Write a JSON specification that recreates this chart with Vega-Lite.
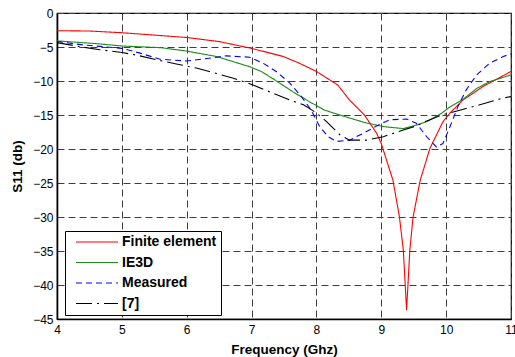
{
  "$schema": "https://vega.github.io/schema/vega-lite/v6.json",
  "width": 454,
  "height": 306,
  "autosize": {"type": "none"},
  "padding": {"left": 57, "top": 13, "right": 4, "bottom": 38},
  "background": "white",
  "config": {
    "font": "Liberation Sans",
    "view": {"stroke": "black", "strokeWidth": 1.2},
    "axis": {
      "labelFont": "Liberation Sans",
      "labelFontSize": 12,
      "labelColor": "black",
      "labelFlush": false,
      "labelOverlap": false,
      "titleFont": "Liberation Sans",
      "titleFontSize": 13.5,
      "titleFontWeight": "bold",
      "titleColor": "black",
      "grid": true,
      "gridColor": "#3c3c3c",
      "gridDash": [7, 4],
      "gridWidth": 1,
      "gridOpacity": 1,
      "domain": true,
      "domainColor": "black",
      "domainWidth": 1.6,
      "ticks": false,
      "labelPadding": 4
    },
    "legend": {
      "orient": "none",
      "legendX": 8,
      "legendY": 218,
      "strokeColor": "black",
      "fillColor": "white",
      "padding": 4,
      "symbolOffset": 6,
      "symbolType": "stroke",
      "symbolSize": 1764,
      "symbolStrokeWidth": 1.2,
      "clipHeight": 14,
      "labelFont": "Liberation Sans",
      "labelFontSize": 14,
      "labelFontWeight": "bold",
      "labelColor": "black",
      "labelOffset": 3,
      "rowPadding": 6.5
    }
  },
  "data": {
    "values": [
      {"f": 4.0, "s": -2.6, "series": "Finite element"},
      {"f": 4.5, "s": -2.65, "series": "Finite element"},
      {"f": 5.0, "s": -2.9, "series": "Finite element"},
      {"f": 5.5, "s": -3.25, "series": "Finite element"},
      {"f": 6.0, "s": -3.6, "series": "Finite element"},
      {"f": 6.5, "s": -4.2, "series": "Finite element"},
      {"f": 7.0, "s": -5.2, "series": "Finite element"},
      {"f": 7.49, "s": -6.4, "series": "Finite element"},
      {"f": 7.74, "s": -7.4, "series": "Finite element"},
      {"f": 8.0, "s": -8.6, "series": "Finite element"},
      {"f": 8.33, "s": -10.6, "series": "Finite element"},
      {"f": 8.51, "s": -12.8, "series": "Finite element"},
      {"f": 8.74, "s": -15.0, "series": "Finite element"},
      {"f": 8.93, "s": -17.7, "series": "Finite element"},
      {"f": 9.0, "s": -19.2, "series": "Finite element"},
      {"f": 9.18, "s": -24.6, "series": "Finite element"},
      {"f": 9.28, "s": -30.0, "series": "Finite element"},
      {"f": 9.34, "s": -34.9, "series": "Finite element"},
      {"f": 9.39, "s": -43.7, "series": "Finite element"},
      {"f": 9.44, "s": -34.9, "series": "Finite element"},
      {"f": 9.49, "s": -30.0, "series": "Finite element"},
      {"f": 9.6, "s": -24.6, "series": "Finite element"},
      {"f": 9.75, "s": -19.9, "series": "Finite element"},
      {"f": 9.95, "s": -16.0, "series": "Finite element"},
      {"f": 10.06, "s": -14.7, "series": "Finite element"},
      {"f": 10.26, "s": -12.8, "series": "Finite element"},
      {"f": 10.57, "s": -10.8, "series": "Finite element"},
      {"f": 11.0, "s": -8.6, "series": "Finite element"},

      {"f": 4.0, "s": -4.1, "series": "IE3D"},
      {"f": 4.3, "s": -4.3, "series": "IE3D"},
      {"f": 4.6, "s": -4.5, "series": "IE3D"},
      {"f": 5.0, "s": -4.85, "series": "IE3D"},
      {"f": 5.6, "s": -5.1, "series": "IE3D"},
      {"f": 6.0, "s": -5.6, "series": "IE3D"},
      {"f": 6.46, "s": -6.4, "series": "IE3D"},
      {"f": 6.97, "s": -7.9, "series": "IE3D"},
      {"f": 7.15, "s": -8.6, "series": "IE3D"},
      {"f": 7.36, "s": -9.85, "series": "IE3D"},
      {"f": 7.64, "s": -11.6, "series": "IE3D"},
      {"f": 7.92, "s": -13.2, "series": "IE3D"},
      {"f": 8.13, "s": -14.3, "series": "IE3D"},
      {"f": 8.36, "s": -15.0, "series": "IE3D"},
      {"f": 8.74, "s": -16.1, "series": "IE3D"},
      {"f": 9.03, "s": -16.7, "series": "IE3D"},
      {"f": 9.34, "s": -17.0, "series": "IE3D"},
      {"f": 9.54, "s": -16.5, "series": "IE3D"},
      {"f": 9.72, "s": -15.9, "series": "IE3D"},
      {"f": 9.93, "s": -14.75, "series": "IE3D"},
      {"f": 10.06, "s": -13.8, "series": "IE3D"},
      {"f": 10.26, "s": -12.7, "series": "IE3D"},
      {"f": 10.47, "s": -11.1, "series": "IE3D"},
      {"f": 10.67, "s": -10.1, "series": "IE3D"},
      {"f": 11.0, "s": -9.1, "series": "IE3D"},

      {"f": 4.0, "s": -4.2, "series": "Measured"},
      {"f": 4.41, "s": -4.7, "series": "Measured"},
      {"f": 5.0, "s": -5.2, "series": "Measured"},
      {"f": 5.28, "s": -5.9, "series": "Measured"},
      {"f": 5.59, "s": -6.8, "series": "Measured"},
      {"f": 6.0, "s": -7.05, "series": "Measured"},
      {"f": 6.31, "s": -6.7, "series": "Measured"},
      {"f": 6.61, "s": -6.3, "series": "Measured"},
      {"f": 6.97, "s": -6.5, "series": "Measured"},
      {"f": 7.18, "s": -7.4, "series": "Measured"},
      {"f": 7.38, "s": -8.6, "series": "Measured"},
      {"f": 7.59, "s": -10.3, "series": "Measured"},
      {"f": 7.77, "s": -12.3, "series": "Measured"},
      {"f": 7.92, "s": -14.3, "series": "Measured"},
      {"f": 8.05, "s": -16.7, "series": "Measured"},
      {"f": 8.18, "s": -18.2, "series": "Measured"},
      {"f": 8.31, "s": -18.9, "series": "Measured"},
      {"f": 8.51, "s": -18.7, "series": "Measured"},
      {"f": 8.72, "s": -17.7, "series": "Measured"},
      {"f": 8.93, "s": -16.6, "series": "Measured"},
      {"f": 9.13, "s": -15.7, "series": "Measured"},
      {"f": 9.39, "s": -15.6, "series": "Measured"},
      {"f": 9.54, "s": -16.2, "series": "Measured"},
      {"f": 9.7, "s": -18.2, "series": "Measured"},
      {"f": 9.85, "s": -19.7, "series": "Measured"},
      {"f": 9.95, "s": -19.2, "series": "Measured"},
      {"f": 10.06, "s": -16.7, "series": "Measured"},
      {"f": 10.18, "s": -13.8, "series": "Measured"},
      {"f": 10.31, "s": -11.3, "series": "Measured"},
      {"f": 10.47, "s": -9.1, "series": "Measured"},
      {"f": 10.67, "s": -7.4, "series": "Measured"},
      {"f": 10.88, "s": -6.4, "series": "Measured"},
      {"f": 11.0, "s": -6.0, "series": "Measured"},

      {"f": 4.0, "s": -4.35, "series": "[7]"},
      {"f": 4.35, "s": -4.95, "series": "[7]"},
      {"f": 4.66, "s": -5.4, "series": "[7]"},
      {"f": 5.0, "s": -5.8, "series": "[7]"},
      {"f": 5.23, "s": -6.2, "series": "[7]"},
      {"f": 5.54, "s": -6.9, "series": "[7]"},
      {"f": 5.84, "s": -7.5, "series": "[7]"},
      {"f": 6.15, "s": -8.1, "series": "[7]"},
      {"f": 6.46, "s": -8.9, "series": "[7]"},
      {"f": 6.72, "s": -9.6, "series": "[7]"},
      {"f": 7.0, "s": -10.5, "series": "[7]"},
      {"f": 7.28, "s": -11.6, "series": "[7]"},
      {"f": 7.59, "s": -12.8, "series": "[7]"},
      {"f": 7.8, "s": -13.5, "series": "[7]"},
      {"f": 8.0, "s": -14.7, "series": "[7]"},
      {"f": 8.16, "s": -16.0, "series": "[7]"},
      {"f": 8.36, "s": -17.9, "series": "[7]"},
      {"f": 8.51, "s": -18.7, "series": "[7]"},
      {"f": 8.77, "s": -18.7, "series": "[7]"},
      {"f": 9.03, "s": -18.2, "series": "[7]"},
      {"f": 9.34, "s": -17.2, "series": "[7]"},
      {"f": 9.54, "s": -16.6, "series": "[7]"},
      {"f": 9.72, "s": -15.8, "series": "[7]"},
      {"f": 9.93, "s": -15.0, "series": "[7]"},
      {"f": 10.21, "s": -14.3, "series": "[7]"},
      {"f": 10.52, "s": -13.5, "series": "[7]"},
      {"f": 10.88, "s": -12.5, "series": "[7]"},
      {"f": 11.0, "s": -12.3, "series": "[7]"}
    ]
  },
  "mark": {"type": "line", "strokeWidth": 1.1, "clip": true},
  "encoding": {
    "x": {
      "field": "f",
      "type": "quantitative",
      "title": "Frequency (Ghz)",
      "scale": {"domain": [4, 11], "nice": false, "zero": false},
      "axis": {"values": [4, 5, 6, 7, 8, 9, 10, 11], "titlePadding": 7, "labelPadding": 5}
    },
    "y": {
      "field": "s",
      "type": "quantitative",
      "title": "S11 (db)",
      "scale": {"domain": [-45, 0], "nice": false, "zero": false},
      "axis": {"values": [0, -5, -10, -15, -20, -25, -30, -35, -40, -45], "titlePadding": 8}
    },
    "color": {
      "field": "series",
      "type": "nominal",
      "title": null,
      "scale": {
        "domain": ["Finite element", "IE3D", "Measured", "[7]"],
        "range": ["#ff0000", "#1a8a1a", "#0000ff", "#000000"]
      }
    },
    "strokeDash": {
      "field": "series",
      "type": "nominal",
      "title": null,
      "scale": {
        "domain": ["Finite element", "IE3D", "Measured", "[7]"],
        "range": [[1, 0], [1, 0], [6, 4], [16, 5, 2, 5]]
      }
    }
  }
}
